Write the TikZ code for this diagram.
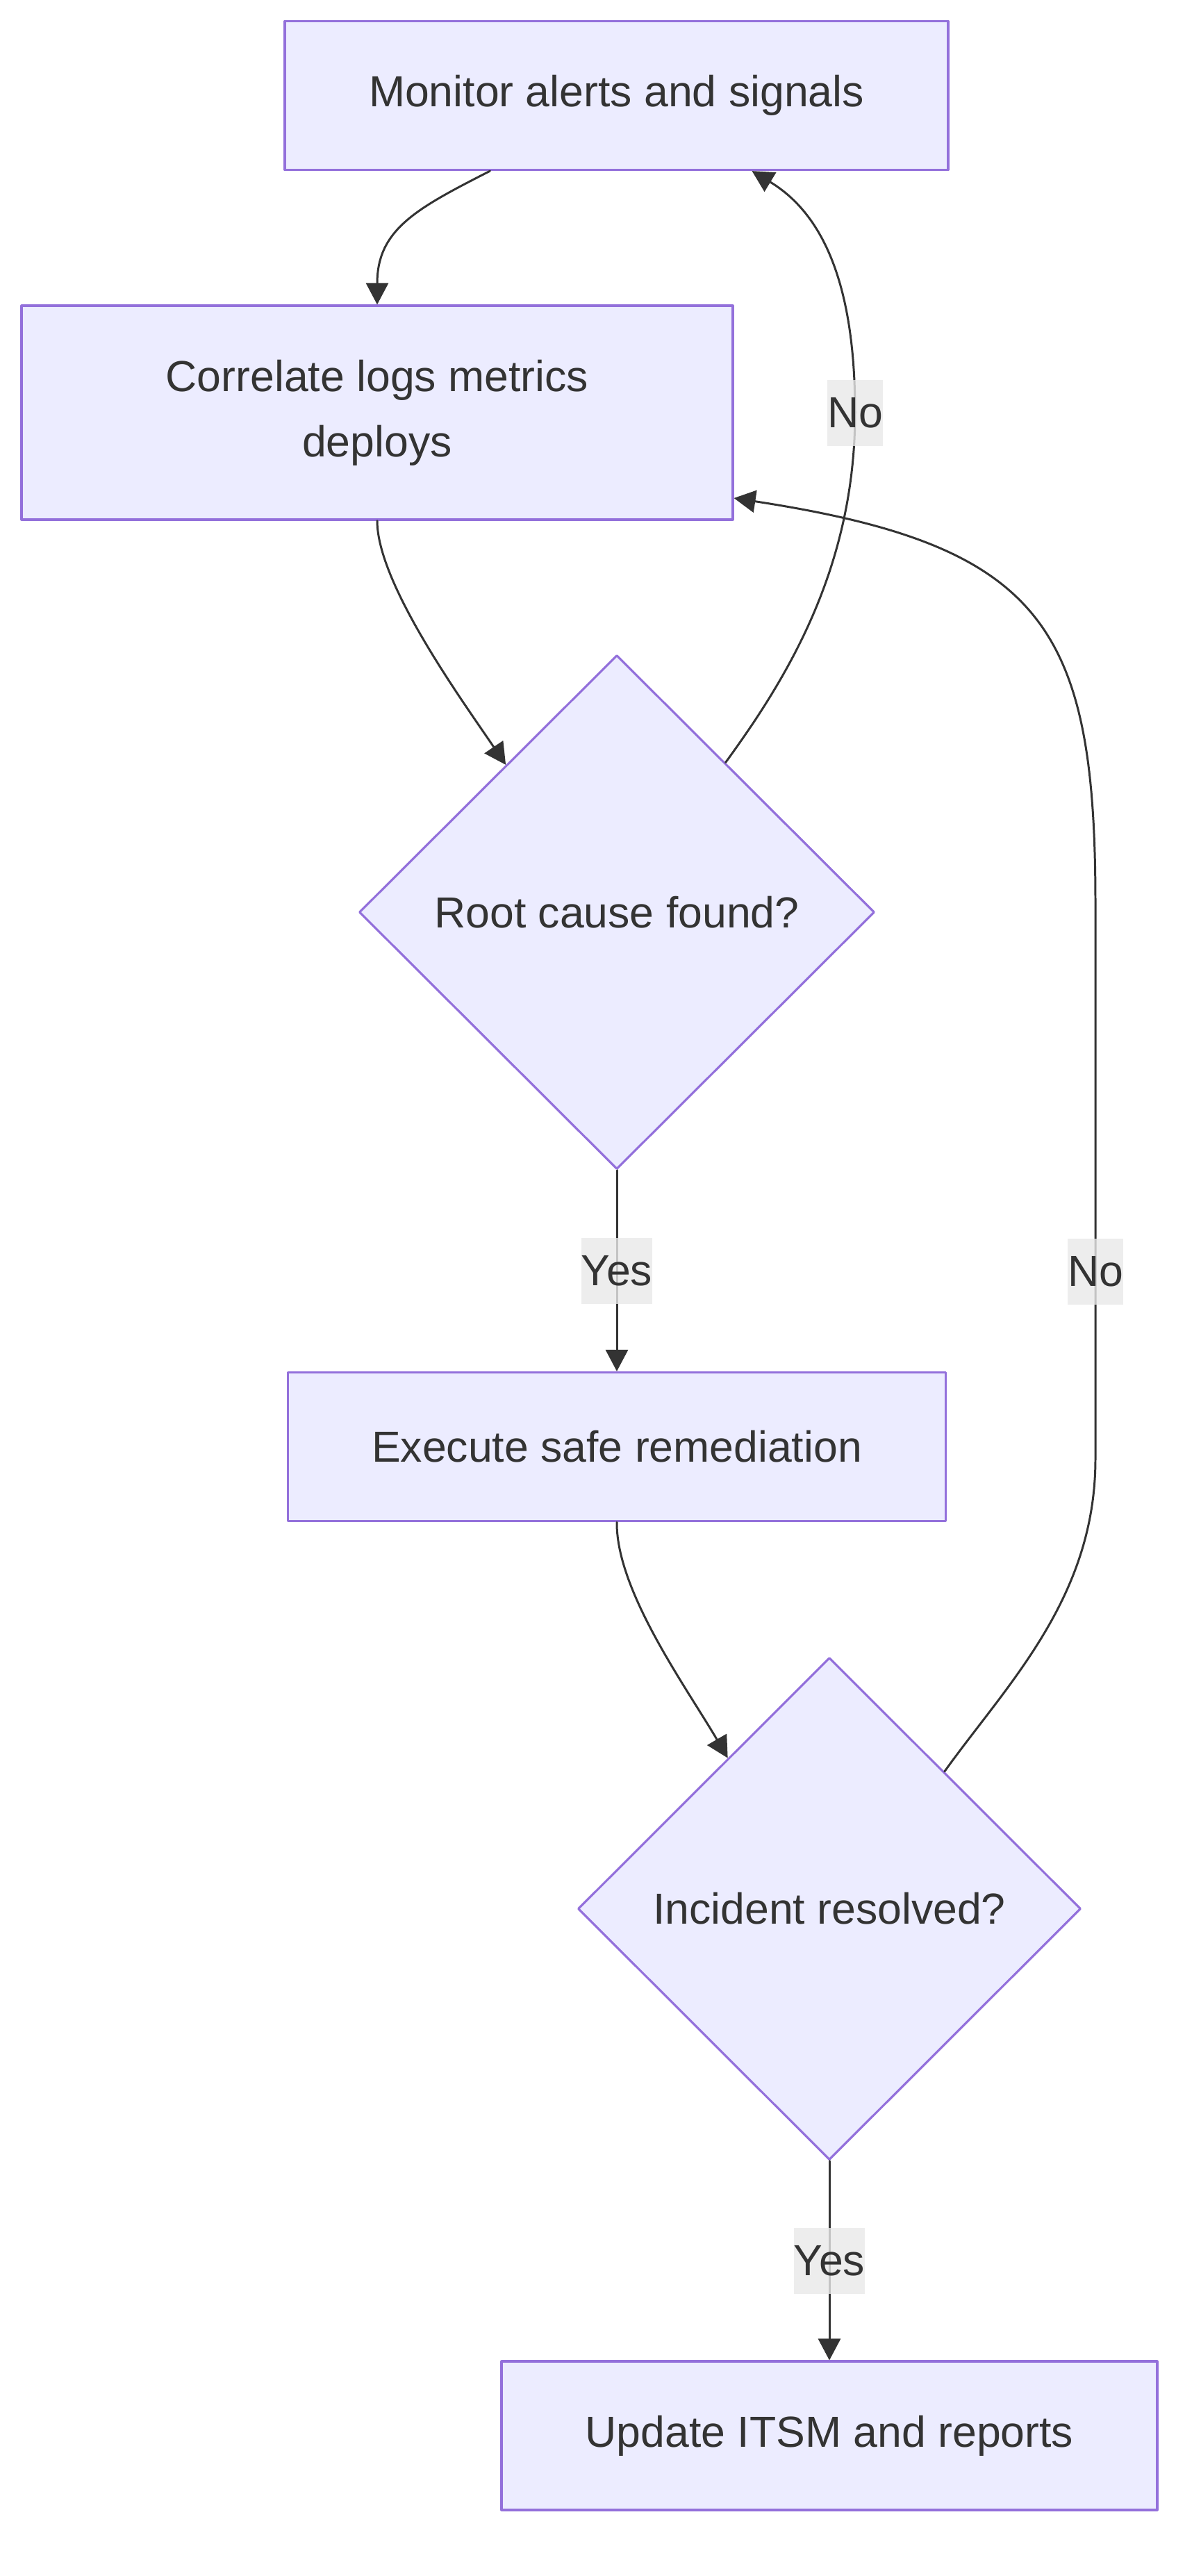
\documentclass[tikz,border=0pt]{standalone}
\usepackage{fontspec}
\setmainfont{Liberation Sans}
\usetikzlibrary{arrows.meta,shapes.geometric}

\definecolor{boxfill}{HTML}{ECECFF}
\definecolor{boxline}{HTML}{9370DB}
\definecolor{inkgray}{HTML}{333333}
\definecolor{labelgray}{HTML}{E8E8E8}

\begin{document}
\begin{tikzpicture}[
	every node/.style={font=\fontsize{17.8}{26.7}\selectfont, text=inkgray},
	stepbox/.style={draw=boxline, fill=boxfill, line width=0.9pt, minimum height=2.14cm, align=center},
	decision/.style={diamond, draw=boxline, fill=boxfill, line width=0.9pt, inner sep=0pt, minimum width=7.42cm, minimum height=7.4cm},
	edgelabel/.style={fill=labelgray, fill opacity=0.8, text opacity=1, inner xsep=0pt, minimum height=0.95cm},
	flow/.style={draw=inkgray, line width=0.85pt, -{Triangle[length=3.1mm, width=3.2mm]}},
	line cap=round,
	line join=round
	]
	
	\useasboundingbox (0,0) rectangle (17.28,-37.08);
	
	\node[stepbox, minimum width=9.55cm] (monitor) at (8.875,-1.375) {Monitor alerts and signals};
	\node[stepbox, minimum width=10.24cm, minimum height=3.08cm] (correlate) at (5.43,-5.94) {Correlate logs metrics\\deploys};
	\node[decision] (rootcause) at (8.88,-13.13) {Root cause found?};
	\node[stepbox, minimum width=9.47cm] (execute) at (8.88,-20.825) {Execute safe remediation};
	\node[decision, minimum width=7.24cm, minimum height=7.23cm] (resolved) at (11.94,-27.475) {Incident resolved?};
	\node[stepbox, minimum width=9.44cm] (update) at (11.94,-35.06) {Update ITSM and reports};
	
	% main flow
	\draw[flow] ([xshift=-1.82cm]monitor.south) .. controls (6.0,-3.0) and (5.43,-3.3) .. (correlate.north);
	\draw[flow] (correlate.south) .. controls (5.43,-8.4) and (6.66,-10.09) .. (rootcause.127);
	\draw[flow] (rootcause.south) -- node[edgelabel] (lblyes1) {Yes} (execute.north);
	\draw[flow] (execute.south) .. controls (8.87,-22.9) and (9.89,-24.3) .. (resolved.124);
	\draw[flow] (resolved.south) -- node[edgelabel] (lblyes2) {Yes} (update.north);
	
	% loops back
	\draw[flow] (rootcause.54) .. controls (11.3,-9.8) and (12.31,-8.2) .. (12.31,-5.94) node[edgelabel] (lblno1) {No}
		.. controls (12.31,-4.0) and (11.8,-3.05) .. ([xshift=1.95cm]monitor.south);
	\draw[flow] (resolved.50) .. controls (14.5,-24.24) and (15.77,-23.0) .. (15.77,-21.0)
		-- node[edgelabel, pos=0.3375] (lblno2) {No} (15.77,-13.0)
		.. controls (15.77,-9.0) and (15.0,-7.85) .. ([yshift=-1.23cm]correlate.east);
	
\end{tikzpicture}
\end{document}
